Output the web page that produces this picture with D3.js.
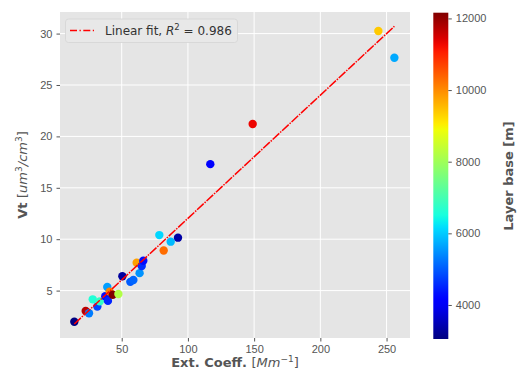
<!DOCTYPE html>
<meta charset="utf-8">
<style>
body { margin: 0; background: #fff; }
svg { font-family: "DejaVu Sans", sans-serif; }
.tick text { fill: #555; font-size: 11px; }
.tick line { stroke: #555; }
.axis path { display: none; }
.lbl { fill: #555; font-size: 13px; }
</style>
<svg width="517" height="383"></svg>
<script src="https://cdn.jsdelivr.net/npm/d3@7"></script>
<script>

// extinction coefficient [Mm-1]
var extCoeff = [14.2, 22.8, 25.3, 31.6, 28.1, 33.4, 39.1, 37.6, 39.6, 40.9, 43.2, 47.5, 50.5,
                56.5, 58.8, 61.3, 63.5, 65.1, 66.3, 78.4, 81.7, 87.0, 92.5, 116.9, 148.9, 243.8, 255.9];
// total volume [um3/cm3]
var vt = [1.97, 3.02, 2.8, 3.45, 4.15, 3.95, 5.35, 4.45, 4.0, 4.9, 4.6, 4.67, 6.4,
          5.85, 6.03, 7.71, 6.7, 7.4, 7.9, 10.4, 8.9, 9.76, 10.15, 17.3, 21.2, 30.25, 27.65];
// layer base [m]
var layerBase = [3050, 11700, 5300, 4800, 6600, 6800, 5600, 4300, 4500, 10100, 12160, 8200, 3300,
                 5000, 5100, 9800, 5500, 4600, 4300, 6100, 10300, 5850, 3350, 4100, 11300, 9400, 5700];

var xTicks = [50, 100, 150, 200, 250];
var yTicks = [5, 10, 15, 20, 25, 30];
var cTicks = [4000, 6000, 8000, 10000, 12000];

var fitSlope = 0.1198, fitIntercept = 0.05, fitR2 = 0.986;

var svg = d3.select("svg");
var plot = {left: 60, top: 12, right: 410, bottom: 338};

var x = d3.scaleLinear().domain([3.4, 267.7]).range([plot.left, plot.right]);
var y = d3.scaleLinear().domain([0.39, 32.1]).range([plot.bottom, plot.top]);

// jet colormap (matplotlib segment data)
var jr = d3.scaleLinear().domain([0, 0.35, 0.66, 0.89, 1]).range([0, 0, 1, 1, 0.5]).clamp(true);
var jg = d3.scaleLinear().domain([0, 0.125, 0.375, 0.64, 0.91, 1]).range([0, 0, 1, 1, 0, 0]).clamp(true);
var jb = d3.scaleLinear().domain([0, 0.11, 0.34, 0.65, 1]).range([0.5, 1, 1, 0, 0]).clamp(true);
function jet(t) { return d3.rgb(jr(t) * 255, jg(t) * 255, jb(t) * 255).formatHex(); }
var cNorm = d3.scaleLinear().domain([3050, 12160]).range([0, 1]).clamp(true);
var color = function(v) { return jet(cNorm(v)); };

svg.append("rect")
    .attr("x", plot.left).attr("y", plot.top)
    .attr("width", plot.right - plot.left).attr("height", plot.bottom - plot.top)
    .attr("fill", "#e5e5e5");

// grid
svg.append("g").selectAll("line").data(xTicks).enter().append("line")
    .attr("x1", d => x(d)).attr("x2", d => x(d))
    .attr("y1", plot.top).attr("y2", plot.bottom)
    .attr("stroke", "#fff").attr("stroke-width", 1);
svg.append("g").selectAll("line").data(yTicks).enter().append("line")
    .attr("y1", d => y(d)).attr("y2", d => y(d))
    .attr("x1", plot.left).attr("x2", plot.right)
    .attr("stroke", "#fff").attr("stroke-width", 1);

svg.append("g")
    .attr("class", "axis")
    .attr("transform", "translate(0," + plot.bottom + ")")
    .call(d3.axisBottom(x).tickValues(xTicks).tickSize(3.5).tickPadding(4));

svg.append("g")
    .attr("class", "axis")
    .attr("transform", "translate(" + plot.left + ",0)")
    .call(d3.axisLeft(y).tickValues(yTicks).tickSize(3.5).tickPadding(4));

// points
var pts = extCoeff.map(function(d, i) { return {x: d, y: vt[i], c: layerBase[i]}; });
svg.append("g").selectAll("circle").data(pts).enter().append("circle")
    .attr("cx", d => x(d.x)).attr("cy", d => y(d.y))
    .attr("r", 4.2)
    .attr("fill", d => color(d.c));

// fit line
var x0 = d3.min(extCoeff), x1 = d3.max(extCoeff);
svg.append("line")
    .attr("x1", x(x0)).attr("y1", y(fitSlope * x0 + fitIntercept))
    .attr("x2", x(x1)).attr("y2", y(fitSlope * x1 + fitIntercept))
    .attr("stroke", "red").attr("stroke-width", 1.5)
    .attr("stroke-dasharray", "9,1.2,1.5,1.2");

// legend
var lg = svg.append("g");
lg.append("rect")
    .attr("x", 65.5).attr("y", 19).attr("width", 172).attr("height", 23.5).attr("rx", 3)
    .attr("fill", "#e8e8e8").attr("stroke", "#d4d4d4").attr("stroke-width", 0.8);
lg.append("line")
    .attr("x1", 70).attr("x2", 94).attr("y1", 30.5).attr("y2", 30.5)
    .attr("stroke", "red").attr("stroke-width", 1.3)
    .attr("stroke-dasharray", "7,2.5,1.3,2.5");
var lt = lg.append("text").attr("x", 105).attr("y", 35).attr("fill", "#333").style("font-size", "12px");
lt.append("tspan").text("Linear fit, ");
lt.append("tspan").attr("font-style", "italic").text("R");
lt.append("tspan").attr("dy", -5).style("font-size", "8.5px").text("2");
lt.append("tspan").attr("dy", 5).text(" = 0.986");

// axis labels
var xl = svg.append("text").attr("class", "lbl").attr("x", 235).attr("y", 367).attr("text-anchor", "middle");
xl.append("tspan").attr("font-weight", "bold").text("Ext. Coeff. ");
xl.append("tspan").text("[");
xl.append("tspan").attr("font-style", "italic").text("Mm");
xl.append("tspan").attr("dy", -5).style("font-size", "9px").text("\u22121");
xl.append("tspan").attr("dy", 5).text("]");

var yl = svg.append("text").attr("class", "lbl").attr("text-anchor", "middle")
    .attr("transform", "translate(27,175) rotate(-90)");
yl.append("tspan").attr("font-weight", "bold").text("Vt ");
yl.append("tspan").text("[");
yl.append("tspan").attr("font-style", "italic").text("um");
yl.append("tspan").attr("dy", -5).style("font-size", "9px").text("3");
yl.append("tspan").attr("dy", 5).attr("font-style", "italic").text("/cm");
yl.append("tspan").attr("dy", -5).style("font-size", "9px").text("3");
yl.append("tspan").attr("dy", 5).text("]");

// colorbar
var cb = {left: 433.3, right: 448.3, top: 12.7, bottom: 339};
var grad = svg.append("defs").append("linearGradient")
    .attr("id", "jet").attr("x1", 0).attr("y1", 1).attr("x2", 0).attr("y2", 0);
grad.selectAll("stop").data(d3.range(0, 1.0001, 0.02)).enter().append("stop")
    .attr("offset", d => d).attr("stop-color", d => jet(d));
svg.append("rect")
    .attr("x", cb.left).attr("y", cb.top)
    .attr("width", cb.right - cb.left).attr("height", cb.bottom - cb.top)
    .attr("fill", "url(#jet)");
var cy = d3.scaleLinear().domain([3050, 12160]).range([cb.bottom, cb.top]);
svg.append("g")
    .attr("class", "axis")
    .attr("transform", "translate(" + cb.right + ",0)")
    .call(d3.axisRight(cy).tickValues(cTicks).tickFormat(d3.format("d")).tickSize(3.5).tickPadding(4));

svg.append("text").attr("class", "lbl").attr("font-weight", "bold").attr("text-anchor", "middle")
    .attr("transform", "translate(513,176) rotate(-90)")
    .text("Layer base [m]");

</script>
